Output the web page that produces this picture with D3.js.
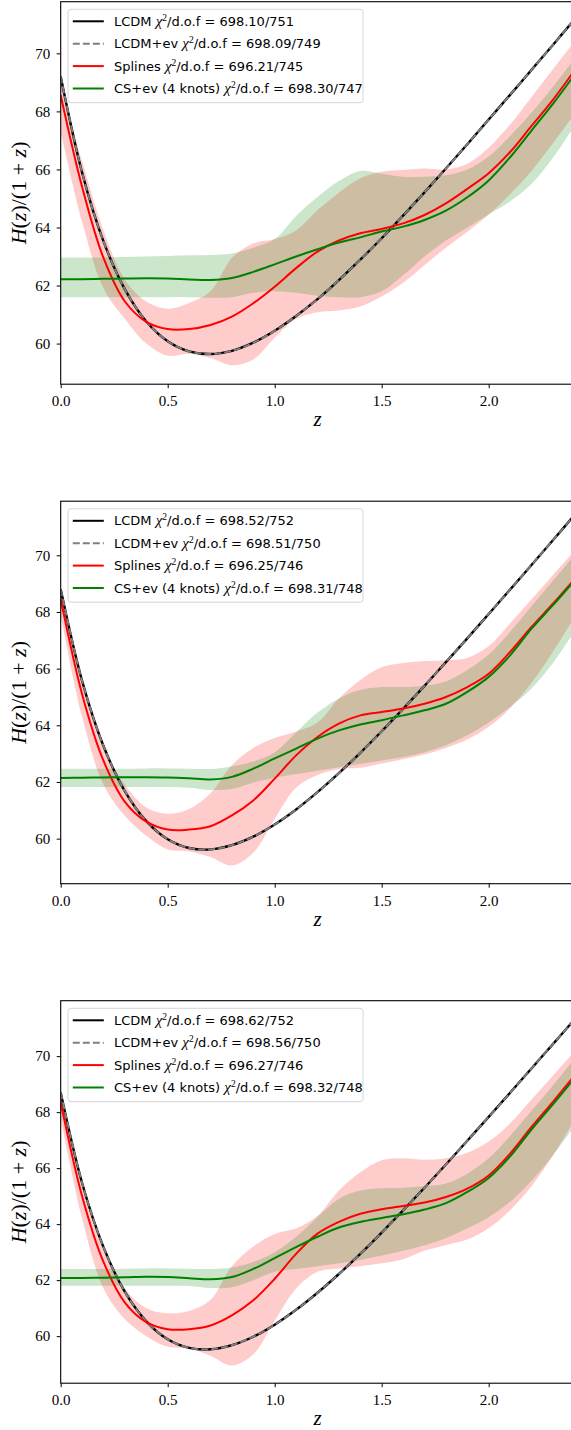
<!DOCTYPE html>
<html>
<head>
<meta charset="utf-8">
<script src="https://cdn.jsdelivr.net/npm/d3@7"></script>
<style>
  html, body { margin: 0; padding: 0; background: #fff; overflow: hidden; }
  svg { display: block; }
</style>
</head>
<body>
<svg id="chart"></svg>
<script>
// redshift grid shared by every curve (every 0.1)
const zGrid = [0, 0.1, 0.2, 0.3, 0.4, 0.5, 0.6, 0.7, 0.8, 0.9, 1.0, 1.1, 1.2,
               1.3, 1.4, 1.5, 1.6, 1.7, 1.8, 1.9, 2.0, 2.1, 2.2, 2.3, 2.4];

const xTicks = [0, 0.5, 1.0, 1.5, 2.0];
const xTickLabels = ["0.0", "0.5", "1.0", "1.5", "2.0"];
const yTicks = [60, 62, 64, 66, 68, 70];

const seriesNames = ["LCDM", "LCDM+ev", "Splines", "CS+ev (4 knots)"];

// ---- panel 1
const chi1 = ["698.10/751", "698.09/749", "696.21/745", "698.30/747"];
const lcdm1 = [69.20, 65.89, 63.52, 61.87, 60.76, 60.08, 59.73, 59.64, 59.75, 60.03, 60.44, 60.95, 61.53,
               62.19, 62.89, 63.63, 64.41, 65.21, 66.03, 66.87, 67.72, 68.57, 69.43, 70.29, 71.16];
const spl1 = [68.56, 65.40, 62.95, 61.45, 60.75, 60.50, 60.50, 60.64, 60.93, 61.39, 61.96, 62.60, 63.17,
              63.55, 63.80, 63.95, 64.14, 64.43, 64.83, 65.33, 65.87, 66.60, 67.50, 68.40, 69.40];
const splLo1 = [67.30, 64.20, 61.90, 60.85, 60.00, 59.58, 59.65, 59.50, 59.25, 59.45, 60.20, 60.85, 61.08,
                61.14, 61.28, 61.62, 62.10, 62.70, 63.30, 63.85, 64.45, 65.15, 65.95, 66.90, 67.90];
const splHi1 = [69.00, 66.30, 63.90, 62.20, 61.45, 61.20, 61.40, 61.80, 62.95, 63.45, 63.60, 63.90, 64.60,
                65.20, 65.70, 65.92, 65.98, 66.03, 66.00, 66.20, 66.75, 67.55, 68.50, 69.45, 70.40];
const cs1 = [62.22, 62.22, 62.23, 62.24, 62.25, 62.24, 62.21, 62.19, 62.26, 62.47, 62.73, 63.00, 63.25,
             63.48, 63.66, 63.86, 64.03, 64.26, 64.58, 65.04, 65.62, 66.42, 67.34, 68.26, 69.25];
const csLo1 = [61.60, 61.60, 61.60, 61.60, 61.60, 61.60, 61.60, 61.58, 61.60, 61.75, 61.80, 61.75, 61.65,
               61.60, 61.60, 61.80, 62.35, 63.00, 63.55, 64.00, 64.45, 64.90, 65.50, 66.40, 67.50];
const csHi1 = [62.97, 62.97, 62.97, 62.98, 63.00, 63.02, 63.04, 63.05, 63.10, 63.30, 63.60, 64.40, 65.05,
               65.60, 65.95, 65.85, 65.75, 65.75, 65.80, 66.00, 66.45, 67.15, 67.95, 68.85, 69.80];

// ---- panel 2
const chi2 = ["698.52/752", "698.51/750", "696.25/746", "698.31/748"];
const lcdm2 = [68.80, 65.57, 63.27, 61.67, 60.62, 59.98, 59.67, 59.62, 59.77, 60.07, 60.50, 61.03, 61.64,
               62.31, 63.03, 63.79, 64.58, 65.39, 66.23, 67.07, 67.93, 68.79, 69.66, 70.53, 71.41];
const spl2 = [68.45, 65.10, 62.75, 61.30, 60.60, 60.32, 60.32, 60.44, 60.82, 61.35, 62.12, 62.94, 63.59,
              64.06, 64.35, 64.47, 64.59, 64.76, 65.00, 65.35, 65.82, 66.59, 67.47, 68.29, 69.15];
const splLo2 = [67.90, 64.30, 61.90, 60.80, 60.10, 59.62, 59.55, 59.35, 59.05, 59.50, 60.70, 61.80, 62.25,
                62.45, 62.50, 62.65, 62.80, 62.97, 63.20, 63.50, 63.95, 64.60, 65.50, 66.60, 67.80];
const splHi2 = [68.80, 65.60, 63.30, 61.90, 61.10, 60.88, 61.05, 61.60, 62.60, 63.20, 63.55, 63.78, 64.10,
                64.95, 65.60, 66.05, 66.20, 66.27, 66.30, 66.38, 66.80, 67.60, 68.45, 69.30, 70.15];
const cs2 = [62.14, 62.15, 62.16, 62.17, 62.17, 62.16, 62.13, 62.09, 62.18, 62.47, 62.83, 63.18, 63.53,
             63.82, 64.03, 64.18, 64.35, 64.53, 64.76, 65.18, 65.71, 66.47, 67.41, 68.24, 69.10];
const csLo2 = [61.82, 61.82, 61.82, 61.82, 61.82, 61.82, 61.80, 61.72, 61.75, 61.98, 62.15, 62.28, 62.40,
               62.52, 62.64, 62.76, 62.88, 63.05, 63.30, 63.65, 64.10, 64.65, 65.30, 66.20, 67.30];
const csHi2 = [62.47, 62.47, 62.47, 62.47, 62.48, 62.48, 62.47, 62.46, 62.55, 62.72, 63.05, 63.75, 64.45,
               64.95, 65.25, 65.35, 65.35, 65.40, 65.55, 65.95, 66.50, 67.30, 68.20, 69.10, 70.00];

// ---- panel 3
const chi3 = ["698.62/752", "698.56/750", "696.27/746", "698.32/748"];
const lcdm3 = [68.70, 65.47, 63.18, 61.58, 60.53, 59.89, 59.58, 59.53, 59.68, 59.98, 60.41, 60.94, 61.55,
               62.22, 62.94, 63.70, 64.49, 65.30, 66.13, 66.98, 67.83, 68.69, 69.56, 70.43, 71.30];
const spl3 = [68.35, 65.00, 62.65, 61.20, 60.50, 60.25, 60.25, 60.38, 60.74, 61.28, 62.05, 62.94, 63.66,
              64.08, 64.37, 64.53, 64.65, 64.77, 64.97, 65.27, 65.74, 66.52, 67.47, 68.37, 69.30];
const splLo3 = [67.80, 64.20, 61.70, 60.60, 60.00, 59.62, 59.55, 59.30, 58.95, 59.35, 60.55, 61.70, 62.30,
                62.42, 62.50, 62.60, 62.75, 63.05, 63.25, 63.45, 63.85, 64.50, 65.35, 66.45, 67.70];
const splHi3 = [68.70, 65.50, 63.20, 61.70, 61.00, 60.82, 60.90, 61.30, 62.50, 63.20, 63.65, 63.85, 64.30,
                65.20, 65.85, 66.28, 66.35, 66.30, 66.35, 66.55, 66.95, 67.60, 68.45, 69.30, 70.15];
const cs3 = [62.08, 62.08, 62.09, 62.10, 62.12, 62.11, 62.07, 62.03, 62.11, 62.40, 62.79, 63.18, 63.55,
             63.88, 64.08, 64.22, 64.35, 64.52, 64.75, 65.15, 65.65, 66.42, 67.38, 68.28, 69.20];
const csLo3 = [61.80, 61.80, 61.80, 61.80, 61.80, 61.80, 61.79, 61.72, 61.75, 62.00, 62.30, 62.40, 62.50,
               62.60, 62.72, 62.88, 63.05, 63.25, 63.50, 63.85, 64.25, 64.80, 65.55, 66.45, 67.50];
const csHi3 = [62.40, 62.40, 62.40, 62.41, 62.42, 62.42, 62.41, 62.40, 62.45, 62.65, 63.00, 63.55, 64.25,
               64.90, 65.20, 65.28, 65.30, 65.35, 65.45, 65.80, 66.35, 67.15, 68.05, 68.95, 69.90];

const panels = [
  {top: 1.7,    yDomain: [58.60, 71.78], chi: chi1, lcdm: lcdm1, spl: spl1, splLo: splLo1, splHi: splHi1, cs: cs1, csLo: csLo1, csHi: csHi1},
  {top: 501.2,  yDomain: [58.41, 71.91], chi: chi2, lcdm: lcdm2, spl: spl2, splLo: splLo2, splHi: splHi2, cs: cs2, csLo: csLo2, csHi: csHi2},
  {top: 1000.7, yDomain: [58.32, 71.98], chi: chi3, lcdm: lcdm3, spl: spl3, splLo: splLo3, splHi: splHi3, cs: cs3, csLo: csLo3, csHi: csHi3}
];

const width = 571;
const height = 1430;
const left = 60.7;
const right = 574.3;   // z = 2.4 sits just past the picture edge
const panelH = 382.5;

const svg = d3.select("#chart")
              .attr("width", width)
              .attr("height", height);

const x = d3.scaleLinear().domain([0, 2.4]).range([left, right]);

const lineColors = ["#000000", "#808080", "#ff0000", "#008000"];
const serif = "'Liberation Serif', 'DejaVu Serif', serif";
const sans = "'DejaVu Sans', sans-serif";
const curve = d3.curveCatmullRom.alpha(0.5);

panels.forEach(function(p, k) {
  const y = d3.scaleLinear().domain(p.yDomain).range([p.top + panelH, p.top]);
  const g = svg.append("g");

  g.append("clipPath").attr("id", "clip" + k)
    .append("rect")
      .attr("x", left).attr("y", p.top)
      .attr("width", right - left).attr("height", panelH);

  const plot = g.append("g").attr("clip-path", "url(#clip" + k + ")");

  const area = function(lo, hi) {
    return d3.area()
      .x((d, i) => x(zGrid[i]))
      .y0((d, i) => y(lo[i]))
      .y1((d, i) => y(hi[i]))
      .curve(curve)(zGrid);
  };
  const line = d3.line()
    .x((d, i) => x(zGrid[i]))
    .y(d => y(d))
    .curve(curve);

  // bands
  plot.append("path").attr("d", area(p.splLo, p.splHi))
      .attr("fill", "#ff0000").attr("fill-opacity", 0.2);
  plot.append("path").attr("d", area(p.csLo, p.csHi))
      .attr("fill", "#008000").attr("fill-opacity", 0.2);

  // lines (LCDM+ev sits right on top of LCDM)
  plot.append("path").attr("d", line(p.lcdm))
      .attr("fill", "none").attr("stroke", lineColors[0]).attr("stroke-width", 2.4);
  plot.append("path").attr("d", line(p.lcdm))
      .attr("fill", "none").attr("stroke", lineColors[1]).attr("stroke-width", 1.9)
      .attr("stroke-dasharray", "7,3");
  plot.append("path").attr("d", line(p.spl))
      .attr("fill", "none").attr("stroke", lineColors[2]).attr("stroke-width", 2);
  plot.append("path").attr("d", line(p.cs))
      .attr("fill", "none").attr("stroke", lineColors[3]).attr("stroke-width", 2);

  // axes
  const xAxis = g.append("g")
    .attr("transform", `translate(0,${p.top + panelH})`)
    .call(d3.axisBottom(x).tickValues(xTicks).tickFormat((d, i) => xTickLabels[i])
            .tickSize(4).tickSizeOuter(0).tickPadding(7.5));
  const yAxis = g.append("g")
    .attr("transform", `translate(${left},0)`)
    .call(d3.axisLeft(y).tickValues(yTicks).tickFormat(d3.format("d"))
            .tickSize(4).tickSizeOuter(0).tickPadding(6.5));
  [xAxis, yAxis].forEach(function(a) {
    a.select(".domain").remove();
    a.selectAll("line").attr("stroke", "#000").attr("stroke-width", 1);
    a.selectAll("text").attr("fill", "#000").style("font-family", serif).style("font-size", "15px");
  });

  // frame
  g.append("rect")
    .attr("x", left).attr("y", p.top)
    .attr("width", right - left).attr("height", panelH)
    .attr("fill", "none").attr("stroke", "#000").attr("stroke-width", 1.1);

  // axis titles
  g.append("text")
    .attr("x", (left + right) / 2).attr("y", p.top + panelH + 42)
    .attr("text-anchor", "middle")
    .style("font-family", serif).style("font-style", "italic").style("font-size", "21px")
    .text("z");

  const yl = g.append("text")
    .attr("transform", `translate(26,${p.top + panelH / 2}) rotate(-90)`)
    .attr("text-anchor", "middle")
    .style("font-family", serif).style("font-size", "22px");
  yl.append("tspan").style("font-style", "italic").text("H");
  yl.append("tspan").text("(");
  yl.append("tspan").style("font-style", "italic").text("z");
  yl.append("tspan").text(")/(1 + ");
  yl.append("tspan").style("font-style", "italic").text("z");
  yl.append("tspan").text(")");

  // legend
  const lg = g.append("g");
  lg.append("rect")
    .attr("x", 68).attr("y", p.top + 7.6)
    .attr("width", 295).attr("height", 93.4)
    .attr("rx", 3)
    .attr("fill", "#fff").attr("fill-opacity", 0.8)
    .attr("stroke", "#d6d6d6").attr("stroke-width", 1);

  seriesNames.forEach(function(name, i) {
    const ry = p.top + 19.6 + i * 22.4;
    lg.append("line")
      .attr("x1", 72.8).attr("x2", 103.8).attr("y1", ry).attr("y2", ry)
      .attr("stroke", lineColors[i]).attr("stroke-width", 2)
      .attr("stroke-dasharray", i === 1 ? "7,3" : null);
    const t = lg.append("text")
      .attr("x", 114).attr("y", ry).attr("dy", "0.36em")
      .style("font-family", sans).style("font-size", "13px").attr("fill", "#000");
    t.append("tspan").text(name + " ");
    t.append("tspan").style("font-family", serif).style("font-style", "italic").style("font-size", "15px").text("\u03c7");
    t.append("tspan").attr("dy", -5).style("font-family", serif).style("font-size", "9.5px").text("2");
    t.append("tspan").attr("dy", 5).text("/d.o.f = " + p.chi[i]);
  });
});
</script>
</body>
</html>
